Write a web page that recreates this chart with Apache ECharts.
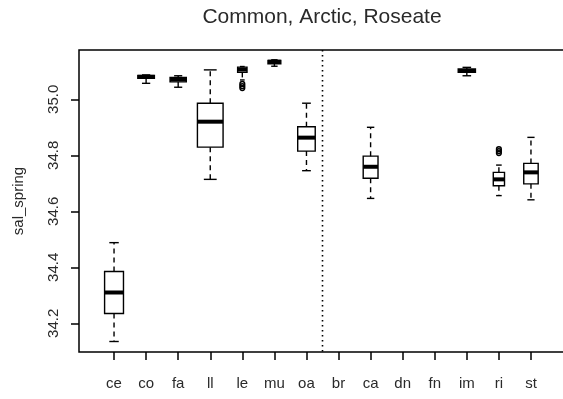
<!DOCTYPE html>
<html>
<head>
<meta charset="utf-8">
<title>sal_spring by site</title>
<script src="https://cdn.jsdelivr.net/npm/echarts@6/dist/echarts.min.js"></script>
<style>
  html, body { margin: 0; padding: 0; background: #fff; }
  #chart { width: 563px; height: 399px; }
</style>
</head>
<body>
<div id="chart"></div>
<script>
// Sites along the x axis; br, dn and fn have no observations.
const categories = ['ce', 'co', 'fa', 'll', 'le', 'mu', 'oa', 'br', 'ca', 'dn', 'fn', 'im', 'ri', 'st'];

// Five-number summaries of spring salinity per site (null = no data).
const whiskerLow  = [34.135, 35.057, 35.043, 34.714, 35.069, 35.118, 34.745, null, 34.646, null, null, 35.084, 34.656, 34.641];
const quartile1   = [34.235, 35.075, 35.062, 34.829, 35.096, 35.127, 34.815, null, 34.718, null, null, 35.096, 34.691, 34.698];
const medians     = [34.310, 35.080, 35.071, 34.920, 35.106, 35.134, 34.863, null, 34.759, null, null, 35.101, 34.714, 34.739];
const quartile3   = [34.385, 35.085, 35.078, 34.986, 35.115, 35.139, 34.902, null, 34.797, null, null, 35.108, 34.739, 34.771];
const whiskerHigh = [34.488, 35.087, 35.084, 35.105, 35.117, 35.141, 34.986, null, 34.900, null, null, 35.114, 34.765, 34.864];

// Points beyond the whiskers.
const outliers = [[], [], [], [], [35.055, 35.047, 35.040], [], [], [], [], [], [], [], [34.808, 34.815, 34.822], []];

// Sample sizes; box widths are proportional to their square root.
const sampleSize = [65, 50, 48, 120, 16, 30, 56, 0, 40, 0, 0, 54, 23, 38];

// Tick labels on the salinity axis.
const yTicks = [34.2, 34.4, 34.6, 34.8, 35.0];

// The dotted separator is drawn after this site.
const dividerAfter = 'oa';

// ---- layout ----
const FONT = "'Liberation Sans', Arial, Helvetica, sans-serif";
const INK = '#000';
const TEXT = '#2a2a2a';
const LW = 1.4;
const frame = { left: 79, top: 50, right: 565, bottom: 352 };

const maxN = Math.max.apply(null, sampleSize);

const boxData = [];
categories.forEach(function (c, i) {
  if (medians[i] == null) return;
  boxData.push([i, whiskerLow[i], quartile1[i], medians[i], quartile3[i], whiskerHigh[i]]);
});

function renderBox(params, api) {
  const i = api.value(0);
  const band = api.size([1, 0])[0];
  const half = 0.4 * band * Math.sqrt(sampleSize[i] / maxN);
  const staple = half / 2;
  const cx = api.coord([i, api.value(3)])[0];
  const y = function (k) { return api.coord([i, api.value(k)])[1]; };
  const yLow = y(1), yQ1 = y(2), yMed = y(3), yQ3 = y(4), yHigh = y(5);
  const thin = { stroke: INK, lineWidth: LW, fill: null };
  const dashed = { stroke: INK, lineWidth: LW, lineDash: [5, 4] };
  const children = [
    { type: 'line', shape: { x1: cx, y1: yQ3, x2: cx, y2: yHigh }, style: dashed },
    { type: 'line', shape: { x1: cx, y1: yQ1, x2: cx, y2: yLow }, style: dashed },
    { type: 'line', shape: { x1: cx - staple, y1: yHigh, x2: cx + staple, y2: yHigh }, style: thin },
    { type: 'line', shape: { x1: cx - staple, y1: yLow, x2: cx + staple, y2: yLow }, style: thin },
    { type: 'rect', shape: { x: cx - half, y: yQ3, width: 2 * half, height: yQ1 - yQ3 }, style: thin },
    { type: 'line', shape: { x1: cx - half, y1: yMed, x2: cx + half, y2: yMed }, style: { stroke: INK, lineWidth: 4 } }
  ];
  outliers[i].forEach(function (v) {
    const p = api.coord([i, v]);
    children.push({ type: 'circle', shape: { cx: p[0], cy: p[1], r: 2.4 }, style: { stroke: INK, lineWidth: 1.4, fill: null } });
  });
  return { type: 'group', children: children };
}

function renderDivider(params, api) {
  const k = categories.indexOf(dividerAfter);
  const x = (api.coord([k, 35])[0] + api.coord([k + 1, 35])[0]) / 2;
  const cs = params.coordSys;
  return {
    type: 'line',
    shape: { x1: x, y1: cs.y, x2: x, y2: cs.y + cs.height },
    style: { stroke: INK, lineWidth: 1.6, lineDash: [1.6, 3.4] }
  };
}

const chart = echarts.init(document.getElementById('chart'), null, { renderer: 'canvas' });

chart.setOption({
  animation: false,
  backgroundColor: '#fff',
  title: {
    text: 'Common, Arctic, Roseate',
    left: (frame.left + frame.right) / 2,
    top: 7,
    padding: 0,
    textAlign: 'center',
    textStyle: { fontFamily: FONT, fontSize: 21, fontWeight: 'normal', color: TEXT }
  },
  grid: { left: 98, right: 16, top: frame.top, bottom: 399 - frame.bottom },
  xAxis: {
    type: 'category',
    data: categories,
    boundaryGap: true,
    axisLine: { show: false },
    axisTick: { show: true, alignWithLabel: true, interval: 0, length: 8, lineStyle: { color: INK, width: 1.5 } },
    axisLabel: { interval: 0, margin: 24, fontFamily: FONT, fontSize: 15, color: TEXT },
    splitLine: { show: false }
  },
  yAxis: {
    type: 'value',
    min: 34.0975,
    max: 35.176,
    offset: 19,
    name: 'sal_spring',
    nameLocation: 'middle',
    nameGap: 53,
    nameTextStyle: { fontFamily: FONT, fontSize: 15, color: TEXT },
    axisLine: { show: false },
    axisTick: { show: true, customValues: yTicks, length: 8, lineStyle: { color: INK, width: 1.5 } },
    axisLabel: {
      customValues: yTicks,
      rotate: 90,
      margin: 18,
      fontFamily: FONT,
      fontSize: 15,
      color: TEXT,
      formatter: function (v) { return v.toFixed(1); }
    },
    splitLine: { show: false }
  },
  graphic: [{
    type: 'rect',
    shape: { x: frame.left, y: frame.top, width: frame.right - frame.left, height: frame.bottom - frame.top },
    style: { fill: null, stroke: INK, lineWidth: 1.5 },
    z: 10
  }],
  series: [
    { type: 'custom', name: 'divider', data: [[0]], renderItem: renderDivider, clip: false, silent: true },
    {
      type: 'custom',
      name: 'sal_spring',
      data: boxData,
      encode: { x: 0, y: [1, 2, 3, 4, 5] },
      renderItem: renderBox,
      clip: false
    }
  ]
});
</script>
</body>
</html>
